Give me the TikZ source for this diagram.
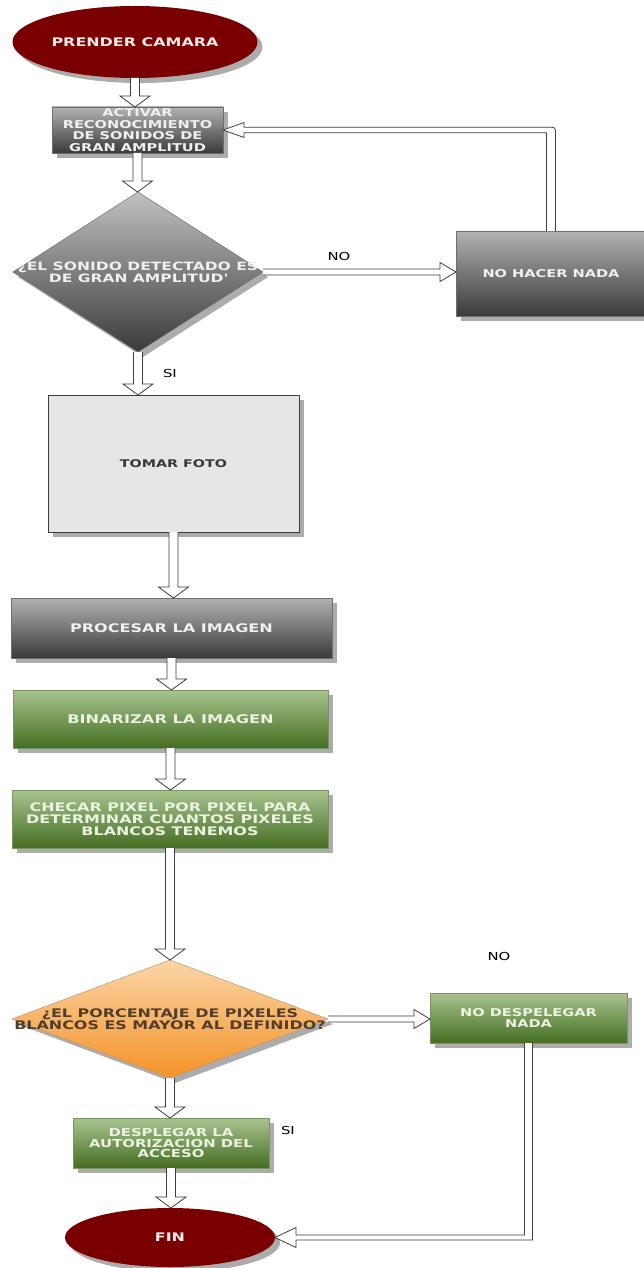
\documentclass[tikz,border=0pt]{standalone}
\usepackage{fontspec}
\setmainfont{DejaVu Sans}[FakeStretch=1.35]
\usetikzlibrary{shapes.geometric,shadows,calc}
\definecolor{dred}{RGB}{122,0,0}
\definecolor{graytop}{RGB}{178,178,178}
\definecolor{graybot}{RGB}{58,58,58}
\definecolor{grayline}{RGB}{110,110,110}
\definecolor{greentop}{RGB}{168,196,142}
\definecolor{greenbot}{RGB}{68,110,34}
\definecolor{greenline}{RGB}{120,150,100}
\definecolor{orangetop}{RGB}{250,214,168}
\definecolor{orangebot}{RGB}{244,146,38}
\definecolor{orangeline}{RGB}{200,150,100}
\definecolor{lightfill}{RGB}{230,230,230}
\definecolor{shadowgray}{RGB}{172,172,172}
\definecolor{arrowgray}{RGB}{60,60,60}
\definecolor{greentext}{RGB}{236,242,226}
\definecolor{orangetext}{RGB}{80,62,42}
\begin{document}
\begin{tikzpicture}[x=1pt,y=-1pt,
  every node/.style={inner sep=0pt, outer sep=0pt},
  shad/.style={drop shadow={shadow xshift=5pt, shadow yshift=-5pt, fill=shadowgray, opacity=1}},
  boxfont/.style={font=\bfseries\fontsize{11.5}{12}\selectfont},
  graybox/.style={rectangle, draw=grayline, line width=0.6pt, top color=graytop, bottom color=graybot, shad, align=center, text=white!94!black, boxfont},
  greenbox/.style={rectangle, draw=greenline, line width=0.6pt, top color=greentop, bottom color=greenbot, shad, align=center, text=greentext, boxfont},
  lightbox/.style={rectangle, draw=arrowgray, line width=0.7pt, fill=lightfill, shad, align=center, text=black!78, boxfont},
  terminal/.style={ellipse, fill=dred, shad, text=white!92!red, font=\bfseries\fontsize{11.8}{12}\selectfont},
  graydiamond/.style={diamond, draw=grayline, line width=0.5pt, top color=graytop!80!white, bottom color=graybot, shad},
  orangediamond/.style={diamond, draw=orangeline, line width=0.5pt, top color=orangetop, bottom color=orangebot, shad},
  dtext/.style={align=center, boxfont},
  lbl/.style={font=\fontsize{11}{12}\selectfont, text=black},
  arrowline/.style={draw=arrowgray, line width=0.8pt, fill=white},
  vdown/.style={arrowline, to path={let \p1=(\tikztostart), \p2=(\tikztotarget) in
     (\x1-4.5pt,\y1) -- (\x1-4.5pt,\y2+11pt) -- (\x1-15pt,\y2+11pt) -- (\x1,\y2)
     -- (\x1+15pt,\y2+11pt) -- (\x1+4.5pt,\y2+11pt) -- (\x1+4.5pt,\y1)}},
  hright/.style={arrowline, to path={let \p1=(\tikztostart), \p2=(\tikztotarget) in
     (\x1,\y1+3pt) -- (\x2-16pt,\y1+3pt) -- (\x2-16pt,\y1+9.5pt) -- (\x2,\y1)
     -- (\x2-16pt,\y1-9.5pt) -- (\x2-16pt,\y1-3pt) -- (\x1,\y1-3pt)}},
  fback/.style={arrowline, to path={let \p1=(\tikztostart), \p2=(\tikztotarget) in
     (\x1+4.5pt,\y1) -- (\x1+4.5pt,\y2-4.25pt) .. controls (\x1+4.5pt,\y2+2.75pt) .. (\x1-2.5pt,\y2+2.75pt)
     -- (\x2+21pt,\y2+2.75pt) -- (\x2+21pt,\y2+7.5pt) -- (\x2,\y2) -- (\x2+21pt,\y2-7.5pt)
     -- (\x2+21pt,\y2-2.75pt) -- (\x1-4.5pt,\y2-2.75pt) -- (\x1-4.5pt,\y1)}},
  fdown/.style={arrowline, to path={let \p1=(\tikztostart), \p2=(\tikztotarget) in
     (\x1-4pt,\y1) -- (\x1-4pt,\y2+2.5pt) -- (\x2+21pt,\y2+2.5pt) -- (\x2+21pt,\y2+10pt)
     -- (\x2,\y2) -- (\x2+21pt,\y2-10pt) -- (\x2+21pt,\y2-2.5pt) -- (\x1+4pt,\y2-2.5pt) -- (\x1+4pt,\y1)}}
]
\useasboundingbox (0,0) rectangle (644,1268);
\fill[white] (0,0) rectangle (644,1268);

% nodes
\node[terminal, minimum width=245pt, minimum height=72pt] (cam) at (135,42) {PRENDER CAMARA};
\node[graybox, minimum width=171pt, minimum height=46pt, font=\bfseries\fontsize{10.8}{11.7}\selectfont] (act) at (137.5,130) {ACTIVAR\\RECONOCIMIENTO\\DE SONIDOS DE\\GRAN AMPLITUD};
\node[graydiamond, minimum width=250pt, minimum height=160pt,
  label={[dtext, text=white!94!black]center:¿EL SONIDO DETECTADO ES\\DE GRAN AMPLITUD\textquotesingle}] (d1) at (138,272) {};
\node[graybox, minimum width=190pt, minimum height=85pt, font=\bfseries\fontsize{10.8}{12}\selectfont] (nhn) at (551,273.5) {NO HACER NADA};
\node[lightbox, minimum width=251pt, minimum height=137pt, font=\bfseries\fontsize{10.6}{12}\selectfont] (foto) at (173.5,463.5) {TOMAR FOTO};
\node[graybox, minimum width=321pt, minimum height=60pt, font=\bfseries\fontsize{11.9}{12}\selectfont] (proc) at (171.5,628) {PROCESAR LA IMAGEN};
\node[greenbox, minimum width=315pt, minimum height=58pt, font=\bfseries\fontsize{12}{12}\selectfont] (bin) at (170.5,719) {BINARIZAR LA IMAGEN};
\node[greenbox, minimum width=316pt, minimum height=58pt, font=\bfseries\fontsize{11.8}{12}\selectfont] (chk) at (170,819) {CHECAR PIXEL POR PIXEL PARA\\DETERMINAR CUANTOS PIXELES\\BLANCOS TENEMOS};
\node[orangediamond, minimum width=316pt, minimum height=118pt,
  label={[dtext, text=orangetext, font=\bfseries\fontsize{11.8}{12.5}\selectfont]center:¿EL PORCENTAJE DE PIXELES\\BLANCOS ES MAYOR AL DEFINIDO?}] (d2) at (170,1019) {};
\node[greenbox, minimum width=197pt, minimum height=50pt, font=\bfseries\fontsize{10.8}{11}\selectfont] (ndn) at (528.5,1018) {NO DESPELEGAR\\NADA};
\node[greenbox, minimum width=196pt, minimum height=50pt, font=\bfseries\fontsize{11}{10.7}\selectfont] (desp) at (171,1143) {DESPLEGAR LA\\AUTORIZACION DEL\\ACCESO};
\node[terminal, minimum width=210pt, minimum height=59pt] (fin) at (170,1237.5) {FIN};

% labels
\node[lbl] (no1) at (339,256) {NO};
\node[lbl, anchor=west] (si1) at (163,373) {SI};
\node[lbl] (no2) at (499,956) {NO};
\node[lbl, anchor=west] (si2) at (281,1130) {SI};

% connectors
\draw[vdown] (cam.south) to (act.north);
\draw[vdown] (act.south) to (d1.north);
\draw[hright] (d1.east) to (nhn.west);
\draw[fback] (nhn.north) to (act.east);
\draw[vdown] (d1.south) to (foto.north);
\draw[vdown] (foto.south) to (proc.north);
\draw[vdown] (proc.south) to (bin.north);
\draw[vdown] (bin.south) to (chk.north);
\draw[vdown] (chk.south) to (d2.north);
\draw[hright] (d2.east) to (ndn.west);
\draw[vdown] (d2.south) to (desp.north);
\draw[vdown] (desp.south) to (fin.north);
\draw[fdown] (ndn.south) to (fin.east);
\end{tikzpicture}
\end{document}
